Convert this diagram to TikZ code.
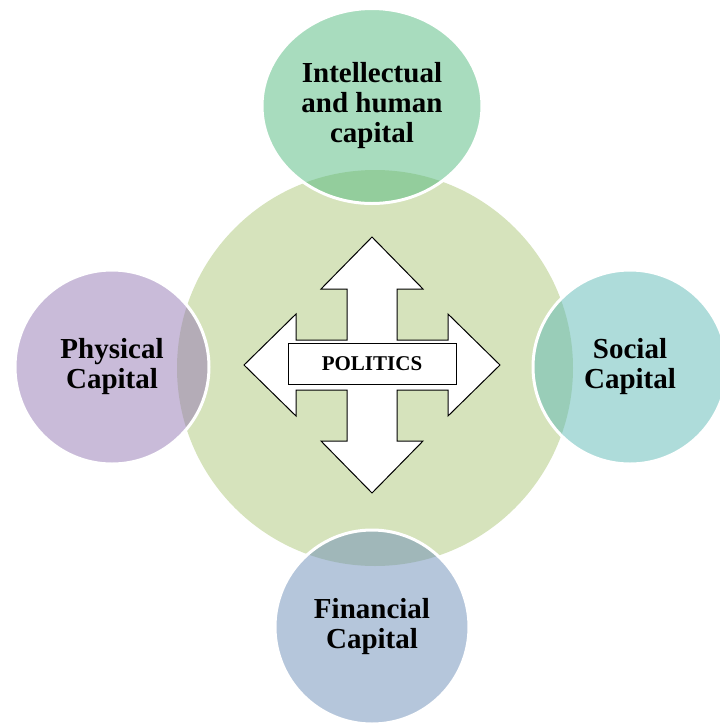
\documentclass[tikz,border=0pt]{standalone}
\usepackage{fontspec}
\setmainfont{Liberation Serif}
\usetikzlibrary{shapes.geometric}
\definecolor{coregreen}{RGB}{214,227,188}
\definecolor{intgreen}{RGB}{81,185,125}
\definecolor{physpurple}{RGB}{147,119,179}
\definecolor{socteal}{RGB}{93,185,181}
\definecolor{finblue}{RGB}{107,141,183}
\begin{document}
\begin{tikzpicture}[x=1pt, y=-1pt,
		capital/.style={circle, inner sep=0pt, draw=white, line width=3pt,
			fill opacity=0.5, draw opacity=1, text opacity=1, align=center,
			minimum size=194pt, font=\fontsize{29}{30}\selectfont\bfseries}]
		\useasboundingbox (0, 0) rectangle (720, 724);
		\node[circle, fill=coregreen, minimum size=396pt] (core) at (375, 368) {};
		\node[capital, ellipse, fill=intgreen, minimum width=220pt, minimum height=195pt] (intel) at (372, 106) {Intellectual\\and human\\capital};
		\node[capital, fill=physpurple] (phys) at (112, 367) {Physical\\Capital};
		\node[capital, fill=socteal] (social) at (630, 367) {Social\\Capital};
		\node[capital, fill=finblue] (fin) at (372, 627) {Financial\\Capital};
		\draw[shift={(372, 365)}, fill=white, line width=1pt, line join=miter]
			(0, -128) -- (51, -76) -- (25, -76) -- (25, -25) -- (76, -25) -- (76, -51)
			-- (128, 0) -- (76, 51) -- (76, 25) -- (25, 25) -- (25, 76) -- (51, 76)
			-- (0, 128) -- (-51, 76) -- (-25, 76) -- (-25, 25) -- (-76, 25) -- (-76, 51)
			-- (-128, 0) -- (-76, -51) -- (-76, -25) -- (-25, -25) -- (-25, -76) -- (-51, -76)
			-- cycle;
		\node[draw, fill=white, line width=0.8pt, inner sep=0pt, minimum width=168pt, minimum height=41pt,
			font=\fontsize{21}{21}\selectfont\bfseries] (politics) at (372, 364) {POLITICS};
	\end{tikzpicture}
\end{document}
